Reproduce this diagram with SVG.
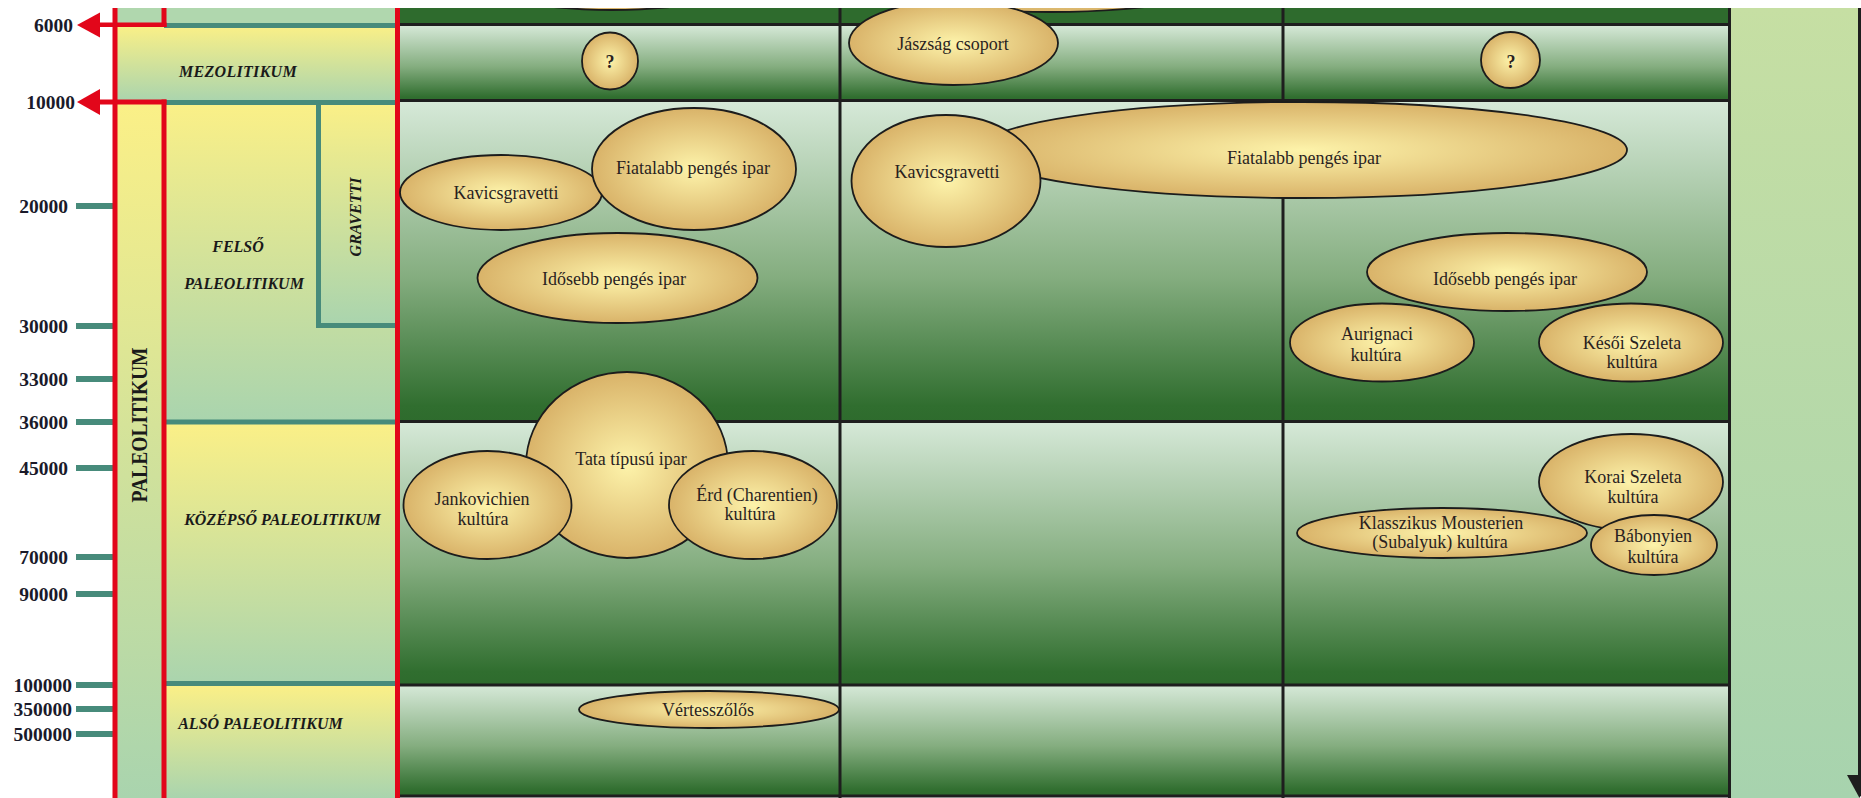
<svg xmlns="http://www.w3.org/2000/svg" width="1861" height="798" viewBox="0 0 1861 798">
<defs>
  <linearGradient id="gRow" x1="0" y1="0" x2="0" y2="1">
    <stop offset="0" stop-color="#d6e9d8"/>
    <stop offset="0.55" stop-color="#84ad7f"/>
    <stop offset="0.95" stop-color="#306e2f"/>
    <stop offset="1" stop-color="#2e6b2d"/>
  </linearGradient>
  <linearGradient id="gEra" x1="0" y1="0" x2="0" y2="1">
    <stop offset="0" stop-color="#fbf087"/>
    <stop offset="1" stop-color="#a9d4ae"/>
  </linearGradient>
  <linearGradient id="gSide" x1="0" y1="0" x2="0" y2="1">
    <stop offset="0" stop-color="#c6dfa3"/>
    <stop offset="1" stop-color="#a7d3ae"/>
  </linearGradient>
  <radialGradient id="gNode" cx="0.5" cy="0.5" r="0.5">
    <stop offset="0" stop-color="#fdf3aa"/>
    <stop offset="1" stop-color="#d9b369"/>
  </radialGradient>
</defs>
<style>
  .node ellipse { fill: url(#gNode); stroke: #1c1c1c; stroke-width: 1.8; }
  .lbl { font-family: "Liberation Serif", "Times New Roman", serif; font-size: 18px; fill: #2a1f1f; text-anchor: middle; }
  .q { font-weight: bold; }
  .era { font-family: "Liberation Serif", "Times New Roman", serif; font-weight: bold; font-style: italic; font-size: 16px; fill: #1a1a1a; text-anchor: middle; }
  .vert { font-family: "Liberation Serif", "Times New Roman", serif; font-weight: bold; font-size: 23px; fill: #1a1a1a; text-anchor: middle; }
  .teal { fill: #478b7b; }
  .num { font-family: "Liberation Serif", "Times New Roman", serif; font-weight: bold; font-size: 19.5px; fill: #1a1a2a; text-anchor: end; }
  .red { fill: #e2061a; }
  .grid { stroke: #1e1e1e; stroke-width: 3; fill: none; }
  .era-cell { fill: url(#gEra); }
  .row { fill: url(#gRow); }
</style>

<rect x="0" y="0" width="1861" height="798" fill="#ffffff"/>

<g id="grid">
  <rect x="400" y="8" width="1330" height="17" fill="#2e6b2d"/>
  <rect class="row" x="400" y="25" width="1330" height="76"/>
  <rect class="row" x="400" y="101" width="1330" height="321"/>
  <rect class="row" x="400" y="422" width="1330" height="263"/>
  <rect class="row" x="400" y="685" width="1330" height="111"/>
  <rect x="1731" y="8" width="128" height="790" fill="url(#gSide)"/>
  <path class="grid" d="M400 24.5H1731 M400 100.5H1731 M400 421.5H1731 M400 685H1731 M400 796H1731 M840 8V798 M1283 8V798 M1729.5 8V798"/>
</g>

<g id="era-panel">
  <rect x="117" y="8" width="47" height="17" fill="#b0d7ae"/>
  <rect x="164" y="8" width="231" height="17" fill="#b0d7ae"/>
  <rect class="era-cell" x="117" y="25" width="278" height="77"/>
  <rect class="era-cell" x="117" y="102" width="47" height="696"/>
  <rect class="era-cell" x="164" y="102" width="231" height="320"/>
  <rect class="era-cell" x="319" y="102" width="76" height="224"/>
  <rect class="era-cell" x="164" y="422" width="231" height="263"/>
  <rect class="era-cell" x="164" y="685" width="231" height="113"/>
  <rect class="teal" x="164" y="23" width="231" height="5"/>
  <rect class="teal" x="164" y="100" width="231" height="5"/>
  <rect class="teal" x="316" y="102" width="5" height="226"/>
  <rect class="teal" x="316" y="323" width="79" height="5"/>
  <rect class="teal" x="164" y="419.5" width="231" height="5"/>
  <rect class="teal" x="164" y="681" width="231" height="5"/>
</g>

<g id="era-mezolitikum"><text class="era" x="238" y="76.5" letter-spacing="0.3">MEZOLITIKUM</text></g>
<g id="era-felso"><text class="era" x="238" y="251.5">FELSŐ</text><text class="era" x="244" y="288.5">PALEOLITIKUM</text></g>
<g id="era-gravetti"><text class="era" transform="translate(361,217) rotate(-90)">GRAVETTI</text></g>
<g id="era-kozepso"><text class="era" x="282.5" y="525">KÖZÉPSŐ PALEOLITIKUM</text></g>
<g id="era-also"><text class="era" x="260.5" y="729">ALSÓ PALEOLITIKUM</text></g>
<g id="era-paleolitikum"><text class="vert" transform="translate(146.5,425) rotate(-90)" textLength="155" lengthAdjust="spacingAndGlyphs">PALEOLITIKUM</text></g>

<g id="scale">
  <rect class="teal" x="76" y="203" width="39" height="6"/>
  <rect class="teal" x="76" y="323" width="39" height="6"/>
  <rect class="teal" x="76" y="376" width="39" height="6"/>
  <rect class="teal" x="76" y="419" width="39" height="6"/>
  <rect class="teal" x="76" y="465" width="39" height="6"/>
  <rect class="teal" x="76" y="554" width="39" height="6"/>
  <rect class="teal" x="76" y="591" width="39" height="6"/>
  <rect class="teal" x="76" y="682" width="39" height="6"/>
  <rect class="teal" x="76" y="706" width="39" height="6"/>
  <rect class="teal" x="76" y="731" width="39" height="6"/>
  <text class="num" x="73" y="31.5">6000</text>
  <text class="num" x="75" y="108.5">10000</text>
  <text class="num" x="68" y="212.5">20000</text>
  <text class="num" x="68" y="332.5">30000</text>
  <text class="num" x="68" y="385.5">33000</text>
  <text class="num" x="68" y="428.5">36000</text>
  <text class="num" x="68" y="474.5">45000</text>
  <text class="num" x="68" y="563.5">70000</text>
  <text class="num" x="68" y="600.5">90000</text>
  <text class="num" x="72" y="691.5">100000</text>
  <text class="num" x="72" y="715.5">350000</text>
  <text class="num" x="72" y="740.5">500000</text>
</g>

<g id="connectors">
  <rect class="red" x="112.5" y="8" width="5" height="790"/>
  <rect class="red" x="161.5" y="8" width="5" height="19"/>
  <rect class="red" x="161.5" y="99.5" width="5" height="698.5"/>
  <rect class="red" x="395" y="8" width="5" height="790"/>
  <rect class="red" x="95" y="22.5" width="71.5" height="4.5"/>
  <rect class="red" x="95" y="99.5" width="71.5" height="5"/>
  <polygon class="red" points="77,25 100,12.5 100,37.5"/>
  <polygon class="red" points="77,102 100,89 100,115"/>
  <rect x="1858" y="8" width="3" height="770" fill="#1e1e1e"/>
  <polygon points="1847,775 1872,775 1859.5,798" fill="#1e1e1e"/>
</g>

<g id="node-top1" class="node"><ellipse cx="612" cy="-30" rx="150" ry="40"/></g>
<g id="node-top2" class="node"><ellipse cx="1050" cy="-30" rx="200" ry="42"/></g>

<g id="node-q1" class="node"><ellipse cx="610" cy="61" rx="28" ry="28.5"/><text class="lbl q" x="610" y="68">?</text></g>
<g id="node-jaszsag" class="node"><ellipse cx="953.5" cy="43" rx="104.5" ry="42"/><text class="lbl" x="953" y="50">Jászság csoport</text></g>
<g id="node-q2" class="node"><ellipse cx="1510.5" cy="60" rx="29.5" ry="28"/><text class="lbl q" x="1511" y="68">?</text></g>

<g id="node-kavics1" class="node"><ellipse cx="501" cy="192.5" rx="101" ry="37.5"/><text class="lbl" x="506" y="199">Kavicsgravetti</text></g>
<g id="node-fiatal1" class="node"><ellipse cx="694" cy="169" rx="102" ry="61"/><text class="lbl" x="693" y="174">Fiatalabb pengés ipar</text></g>
<g id="node-idos1" class="node"><ellipse cx="617.5" cy="278" rx="140" ry="45"/><text class="lbl" x="614" y="285">Idősebb pengés ipar</text></g>

<g id="node-fiatal2" class="node"><ellipse cx="1303" cy="150" rx="324" ry="48"/><text class="lbl" x="1304" y="164">Fiatalabb pengés ipar</text></g>
<g id="node-kavics2" class="node"><ellipse cx="946" cy="181" rx="94.5" ry="66"/><text class="lbl" x="947" y="178">Kavicsgravetti</text></g>

<g id="node-aurignaci" class="node"><ellipse cx="1382" cy="342.5" rx="92" ry="39"/><text class="lbl" x="1377" y="340">Aurignaci</text><text class="lbl" x="1376" y="361">kultúra</text></g>
<g id="node-kesoi" class="node"><ellipse cx="1631" cy="342.5" rx="92" ry="39"/><text class="lbl" x="1632" y="349">Késői Szeleta</text><text class="lbl" x="1632" y="368">kultúra</text></g>
<g id="node-idos3" class="node"><ellipse cx="1507" cy="272" rx="140" ry="39"/><text class="lbl" x="1505" y="285">Idősebb pengés ipar</text></g>

<g id="node-tata" class="node"><ellipse cx="627" cy="465" rx="101" ry="93"/><text class="lbl" x="631" y="465">Tata típusú ipar</text></g>
<g id="node-jankovichien" class="node"><ellipse cx="487.5" cy="505" rx="84" ry="54"/><text class="lbl" x="482" y="505">Jankovichien</text><text class="lbl" x="483" y="525">kultúra</text></g>
<g id="node-erd" class="node"><ellipse cx="753" cy="505" rx="84" ry="54"/><text class="lbl" x="757" y="501">Érd (Charentien)</text><text class="lbl" x="750" y="520">kultúra</text></g>

<g id="node-korai" class="node"><ellipse cx="1631" cy="482" rx="92" ry="48"/><text class="lbl" x="1633" y="483">Korai Szeleta</text><text class="lbl" x="1633" y="503">kultúra</text></g>
<g id="node-klasszikus" class="node"><ellipse cx="1442" cy="533" rx="145" ry="25"/><text class="lbl" x="1441" y="529">Klasszikus Mousterien</text><text class="lbl" x="1440" y="548">(Subalyuk) kultúra</text></g>
<g id="node-babonyien" class="node"><ellipse cx="1654" cy="545" rx="63" ry="30"/><text class="lbl" x="1653" y="542">Bábonyien</text><text class="lbl" x="1653" y="563">kultúra</text></g>

<g id="node-vertesszolos" class="node"><ellipse cx="709" cy="709.5" rx="130" ry="18.5"/><text class="lbl" x="708" y="716">Vértesszőlős</text></g>

<rect x="0" y="0" width="1861" height="8" fill="#ffffff"/>
</svg>
